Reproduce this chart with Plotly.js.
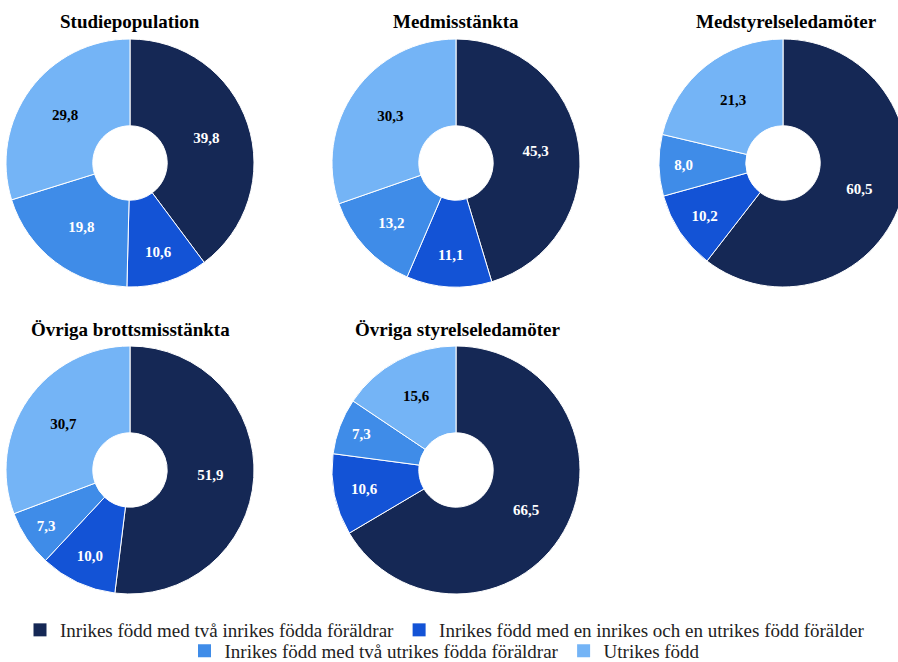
<!DOCTYPE html>
<html>
<head>
<meta charset="utf-8">
<script src="https://cdn.plot.ly/plotly-3.0.1.min.js"></script>
<style>
html,body{margin:0;padding:0;overflow:hidden;background:#fff;width:898px;height:662px;}
#chart{width:912px;height:662px;}
</style>
</head>
<body>
<div id="chart"></div>
<script>
const categories = [
  "Inrikes född med två inrikes födda föräldrar",
  "Inrikes född med en inrikes och en utrikes född förälder",
  "Inrikes född med två utrikes födda föräldrar",
  "Utrikes född"
];
const groups = ["Studiepopulation","Medmisstänkta","Medstyrelseledamöter","Övriga brottsmisstänkta","Övriga styrelseledamöter"];
const studiepopulation = [39.8, 10.6, 19.8, 29.8];
const medmisstankta = [45.3, 11.1, 13.2, 30.3];
const medstyrelseledamoter = [60.5, 10.2, 8.0, 21.3];
const ovrigaBrottsmisstankta = [51.9, 10.0, 7.3, 30.7];
const ovrigaStyrelseledamoter = [66.5, 10.6, 7.3, 15.6];
const seriesValues = [studiepopulation, medmisstankta, medstyrelseledamoter, ovrigaBrottsmisstankta, ovrigaStyrelseledamoter];

const W = 912, H = 662;
const colors = ["#152855", "#1353d6", "#3f8ce8", "#74b4f6"];
const textColors = ["#ffffff","#ffffff","#ffffff","#000000"];
const centers = [[130,163],[456,163],[783,163],[130,470],[456,470]];
const R = 124;
const titlePos = [[130,21],[456,21],[786,21],[130,329],[457,329]];
const serif = "Liberation Serif, DejaVu Serif, serif";

const traces = seriesValues.map((vals, i) => {
  const [cx, cy] = centers[i];
  return {
    type: "pie",
    labels: categories,
    values: vals,
    sort: false,
    direction: "clockwise",
    rotation: 0,
    hole: 0.3,
    marker: {colors: colors, line: {color: "#ffffff", width: 1}},
    textposition: "inside",
    insidetextorientation: "horizontal",
    texttemplate: "%{value:.1f}",
    insidetextfont: {family: serif, size: 15, color: textColors, weight: "bold"},
    hoverinfo: "none",
    showlegend: false,
    domain: {
      x: [(cx - R) / W, (cx + R) / W],
      y: [1 - (cy + R) / H, 1 - (cy - R) / H]
    }
  };
});

// legend entries (split across two centred rows)
categories.forEach((c, k) => {
  traces.push({
    type: "scatter",
    x: [null], y: [null],
    mode: "markers",
    name: c,
    marker: {symbol: "square", size: 13, color: colors[k]},
    showlegend: true,
    hoverinfo: "none",
    legend: k < 2 ? "legend" : "legend2"
  });
});

const annotations = groups.map((g, i) => ({
  text: "<b>" + g + "</b>",
  x: titlePos[i][0] / W,
  y: 1 - titlePos[i][1] / H,
  xref: "paper", yref: "paper",
  xanchor: "center", yanchor: "middle",
  showarrow: false,
  font: {family: serif, size: 19, color: "#000"}
}));

const legendFont = {family: serif, size: 19, color: "#222"};
const layout = {
  width: W, height: H,
  margin: {l: 0, r: 0, t: 0, b: 0, autoexpand: false},
  paper_bgcolor: "#fff",
  plot_bgcolor: "rgba(0,0,0,0)",
  separators: ", ",
  annotations: annotations,
  showlegend: true,
  xaxis: {visible: false},
  yaxis: {visible: false},
  legend: {
    orientation: "h",
    x: 445 / W, xanchor: "center",
    y: 1 - 630 / H, yanchor: "middle",
    font: legendFont,
    bgcolor: "rgba(0,0,0,0)"
  },
  legend2: {
    orientation: "h",
    x: 445 / W, xanchor: "center",
    y: 1 - 651 / H, yanchor: "middle",
    font: legendFont,
    bgcolor: "rgba(0,0,0,0)"
  }
};

Plotly.newPlot("chart", traces, layout, {displayModeBar: false, staticPlot: true});
</script>
</body>
</html>
